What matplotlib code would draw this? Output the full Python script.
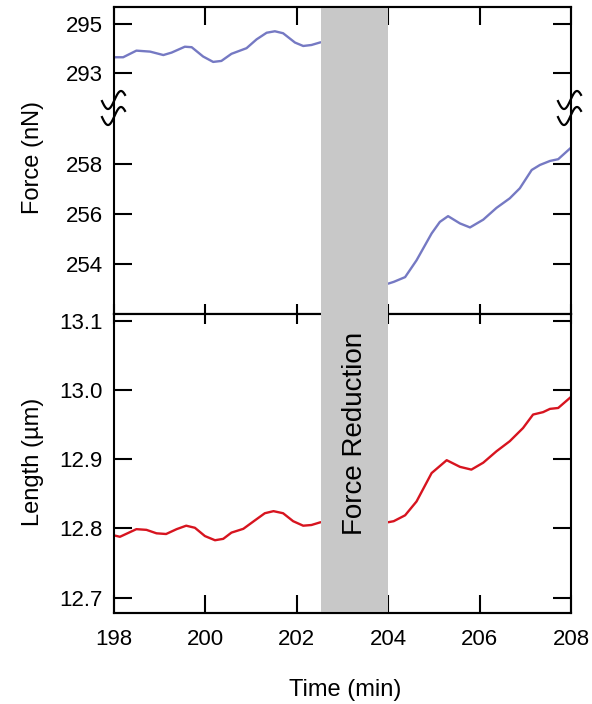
import matplotlib
matplotlib.use("Agg")
import matplotlib.pyplot as plt
import numpy as np
from matplotlib.lines import Line2D

plt.rcParams['font.family'] = ['Liberation Sans', 'DejaVu Sans']

# ---- data ----
force_pre_t = [198.0, 198.2, 198.49, 198.79, 199.08, 199.26, 199.55, 199.70, 199.95, 200.17, 200.35,
               200.57, 200.90, 201.12, 201.34, 201.52, 201.70, 201.96, 202.14, 202.32, 202.52]
force_pre_v = [293.64, 293.64, 293.91, 293.87, 293.73, 293.83, 294.07, 294.05, 293.67, 293.45, 293.49,
               293.78, 294.01, 294.37, 294.64, 294.70, 294.62, 294.24, 294.10, 294.14, 294.25]

force_post_t = [204.0, 204.12, 204.37, 204.62, 204.95, 205.13, 205.31, 205.57, 205.79, 206.08, 206.37,
                206.66, 206.88, 207.14, 207.32, 207.54, 207.72, 208.0]
force_post_v = [253.23, 253.30, 253.49, 254.16, 255.23, 255.69, 255.92, 255.63, 255.47, 255.78, 256.25,
                256.63, 257.03, 257.76, 257.96, 258.12, 258.19, 258.65]

length_pre_t = [198.0, 198.13, 198.49, 198.71, 198.93, 199.14, 199.37, 199.58, 199.77, 199.99, 200.21,
                200.39, 200.57, 200.83, 201.09, 201.30, 201.49, 201.70, 201.92, 202.14, 202.32, 202.52]
length_pre_v = [12.790, 12.788, 12.799, 12.798, 12.793, 12.792, 12.799, 12.804, 12.801, 12.789, 12.783,
                12.785, 12.794, 12.7995, 12.812, 12.822, 12.825, 12.822, 12.8105, 12.804, 12.805, 12.809]

length_post_t = [204.0, 204.12, 204.37, 204.62, 204.95, 205.28, 205.57, 205.82, 206.08, 206.37, 206.66,
                 206.95, 207.17, 207.39, 207.54, 207.72, 208.0]
length_post_v = [12.809, 12.8105, 12.819, 12.839, 12.880, 12.8986, 12.889, 12.885, 12.895, 12.9115, 12.926,
                 12.945, 12.9645, 12.968, 12.9727, 12.974, 12.990]

x_ticks = [198, 200, 202, 204, 206, 208]
force_hi_ticks = [293, 295]
force_lo_ticks = [254, 256, 258]
length_ticks = [12.7, 12.8, 12.9, 13.0, 13.1]
band = (202.53, 204.0)

BLUE = '#7579c3'
RED = '#d7141f'
GRAY = '#c8c8c8'
FS = 16
LW = 1.5
DLW = 1.7

W, H = 592, 704
fig = plt.figure(figsize=(W / 100, H / 100), dpi=100)

def fy(py):
    return 1 - py / H

L = 114 / W
AW = 457 / W
ax_top = fig.add_axes([L, fy(108), AW, (108 - 7) / H])
ax_mid = fig.add_axes([L, fy(314), AW, (314 - 108) / H])
ax_bot = fig.add_axes([L, fy(613.3), AW, (613.3 - 314) / H])
ax_ov = fig.add_axes([L, fy(613.3), AW, (613.3 - 7) / H], zorder=5)

for ax in (ax_top, ax_mid, ax_bot, ax_ov):
    ax.set_xlim(198, 208)
    for s in ax.spines.values():
        s.set_linewidth(LW)

line_kw = dict(lw=DLW, solid_joinstyle='round', solid_capstyle='round')

# top (upper force segment)
ax_top.plot(force_pre_t, force_pre_v, color=BLUE, **line_kw)
ax_top.set_ylim(291.57, 295.69)
ax_top.spines['bottom'].set_visible(False)
ax_top.set_yticks(force_hi_ticks)
ax_top.set_xticks(x_ticks)
ax_top.tick_params(axis='x', which='both', direction='in', top=True, bottom=False, labelbottom=False,
                   length=13, width=LW)
ax_top.tick_params(axis='y', direction='in', left=True, right=True, length=13, width=LW,
                   labelsize=FS, pad=8)

# mid (lower force segment)
ax_mid.plot(force_post_t, force_post_v, color=BLUE, **line_kw)
ax_mid.set_ylim(252.02, 260.23)
ax_mid.spines['top'].set_visible(False)
ax_mid.set_yticks(force_lo_ticks)
ax_mid.set_xticks(x_ticks)
ax_mid.tick_params(axis='x', direction='in', top=False, bottom=True, labelbottom=False,
                   length=7.5, width=LW)
ax_mid.tick_params(axis='y', direction='in', left=True, right=True, length=13, width=LW,
                   labelsize=FS, pad=8)

# bottom (length)
ax_bot.plot(length_pre_t, length_pre_v, color=RED, **line_kw)
ax_bot.plot(length_post_t, length_post_v, color=RED, **line_kw)
ax_bot.set_ylim(12.6775, 13.1097)
ax_bot.set_yticks(length_ticks)
ax_bot.set_yticklabels([f"{v:.1f}" for v in length_ticks])
ax_bot.set_xticks(x_ticks)
ax_bot.tick_params(axis='x', direction='in', top=False, bottom=True, length=13, width=LW,
                   labelsize=FS, pad=11)
ax_bot.tick_params(axis='y', direction='in', left=True, right=True, length=13, width=LW,
                   labelsize=FS, pad=8)
# short top ticks of bottom panel
ax_bot2 = ax_bot.secondary_xaxis('top')
ax_bot2.set_xticks(x_ticks)
ax_bot2.tick_params(axis='x', direction='in', length=7.5, width=LW, labeltop=False)
ax_bot2.spines['top'].set_linewidth(LW)

# overlay: gray band + outer spines
ax_ov.patch.set_alpha(0)
ax_ov.set_ylim(0, 1)
ax_ov.axvspan(band[0], band[1], color=GRAY, lw=0)
ax_ov.spines['left'].set_visible(False)
ax_ov.spines['right'].set_visible(False)
ax_ov.set_xticks([])
ax_ov.set_yticks([])
ax_ov.text((band[0] + band[1]) / 2, (613.3 - 433) / (613.3 - 7), "Force Reduction",
           rotation=90, ha='center', va='center', fontsize=20, color='black')

# break squiggles
xs = np.linspace(-12.5, 10.5, 60)
for cx in (114.5, 570.5):
    for cy in (100, 116):
        px = (cx + xs) / W
        py = [fy(cy - 9 * np.sin(np.pi * x / 13)) for x in xs]
        fig.add_artist(Line2D(px, py, color='black', lw=1.6, transform=fig.transFigure, zorder=10))

# labels
fig.text(33 / W, fy(157), "Force (nN)", rotation=90, ha='center', va='center', fontsize=17)
fig.text(33 / W, fy(462), "Length (\u00b5m)", rotation=90, ha='center', va='center', fontsize=17)
fig.text(345 / W, fy(690), "Time (min)", ha='center', va='center', fontsize=17)

fig.savefig("out.png", dpi=100)
